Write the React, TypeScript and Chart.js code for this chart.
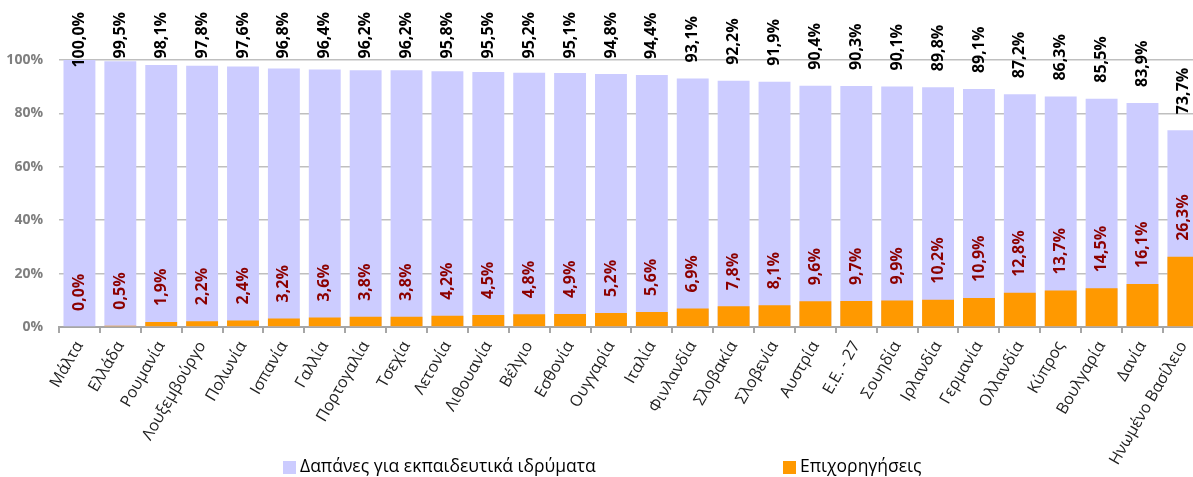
import React, { useEffect, useRef } from "react";
import { Chart, registerables } from "chart.js";

Chart.register(...registerables);

const categories = [
  "Μάλτα", "Ελλάδα", "Ρουμανία", "Λουξεμβούργο", "Πολωνία", "Ισπανία", "Γαλλία",
  "Πορτογαλία", "Τσεχία", "Λετονία", "Λιθουανία", "Βέλγιο", "Εσθονία", "Ουγγαρία",
  "Ιταλία", "Φινλανδία", "Σλοβακία", "Σλοβενία", "Αυστρία", "Ε.Ε. - 27", "Σουηδία",
  "Ιρλανδία", "Γερμανία", "Ολλανδία", "Κύπρος", "Βουλγαρία", "Δανία", "Ηνωμένο Βασίλειο",
];

const institutionSpending = [
  100.0, 99.5, 98.1, 97.8, 97.6, 96.8, 96.4, 96.2, 96.2, 95.8, 95.5, 95.2, 95.1, 94.8,
  94.4, 93.1, 92.2, 91.9, 90.4, 90.3, 90.1, 89.8, 89.1, 87.2, 86.3, 85.5, 83.9, 73.7,
];

const grants = [
  0.0, 0.5, 1.9, 2.2, 2.4, 3.2, 3.6, 3.8, 3.8, 4.2, 4.5, 4.8, 4.9, 5.2,
  5.6, 6.9, 7.8, 8.1, 9.6, 9.7, 9.9, 10.2, 10.9, 12.8, 13.7, 14.5, 16.1, 26.3,
];

const seriesNames = ["Δαπάνες για εκπαιδευτικά ιδρύματα", "Επιχορηγήσεις"];
const yTicks = [0, 20, 40, 60, 80, 100];

const LAVENDER = "#CCCCFF";
const ORANGE = "#FF9900";
const FONT = "'Open Sans', 'DejaVu Sans', sans-serif";

const fmt = (v: number) => v.toFixed(1).replace(".", ",") + "%";

const labelPlugin = {
  id: "valueLabels",
  afterDatasetsDraw(chart: any) {
    const ctx = chart.ctx;
    const grantMeta = chart.getDatasetMeta(0);
    const instMeta = chart.getDatasetMeta(1);
    ctx.save();
    ctx.textAlign = "left";
    ctx.textBaseline = "middle";
    ctx.font = `bold 16px ${FONT}`;
    ctx.fillStyle = "#000000";
    instMeta.data.forEach((bar: any, i: number) => {
      const txt = fmt(institutionSpending[i]);
      const w = ctx.measureText(txt).width;
      let yb = bar.y - 16;
      if (yb - w < 12) yb = 12 + w;
      ctx.save();
      ctx.translate(bar.x, yb);
      ctx.rotate(-Math.PI / 2);
      ctx.fillText(txt, 0, 0);
      ctx.restore();
    });
    ctx.fillStyle = "#8B0000";
    grantMeta.data.forEach((bar: any, i: number) => {
      const txt = fmt(grants[i]);
      const yb = bar.y - 16;
      ctx.save();
      ctx.translate(bar.x, yb);
      ctx.rotate(-Math.PI / 2);
      ctx.fillText(txt, 0, 0);
      ctx.restore();
    });
    ctx.restore();
  },
  afterDraw(chart: any) {
    const ctx = chart.ctx;
    ctx.save();
    ctx.font = `17.5px ${FONT}`;
    ctx.textBaseline = "middle";
    ctx.textAlign = "left";
    const y = 467;
    const items = [
      { x: 283, color: LAVENDER, text: seriesNames[0] },
      { x: 783, color: ORANGE, text: seriesNames[1] },
    ];
    items.forEach((it) => {
      ctx.fillStyle = it.color;
      ctx.fillRect(it.x, y - 6, 13, 13);
      ctx.fillStyle = "#000000";
      ctx.fillText(it.text, it.x + 17, y);
    });
    ctx.restore();
  },
};

export default function App() {
  const ref = useRef<HTMLCanvasElement | null>(null);
  useEffect(() => {
    document.body.style.margin = "0";
    document.body.style.overflow = "hidden";
    const chart = new Chart(ref.current as HTMLCanvasElement, {
      type: "bar",
      data: {
        labels: categories,
        datasets: [
          {
            label: seriesNames[1],
            data: grants,
            backgroundColor: ORANGE,
            barPercentage: 0.78,
            categoryPercentage: 1,
          },
          {
            label: seriesNames[0],
            data: institutionSpending,
            backgroundColor: LAVENDER,
            barPercentage: 0.78,
            categoryPercentage: 1,
          },
        ],
      },
      options: {
        animation: false,
        responsive: false,
        layout: { padding: { top: 60, bottom: 0, left: 0, right: 0 } },
        plugins: { legend: { display: false }, tooltip: { enabled: false } },
        scales: {
          x: {
            stacked: true,
            grid: {
              drawOnChartArea: false,
              drawTicks: true,
              tickLength: 6,
              offset: true,
              color: "#A6A6A6",
              lineWidth: 2,
            },
            border: { display: true, color: "#A6A6A6", width: 2 },
            ticks: {
              autoSkip: false,
              minRotation: 60,
              maxRotation: 60,
              color: "#222222",
              font: { family: FONT, size: 16 },
              padding: 5,
            },
            afterFit(scale: any) {
              scale.height = 477 - 327;
            },
          },
          y: {
            stacked: false,
            min: 0,
            max: 100,
            afterBuildTicks(scale: any) {
              scale.ticks = yTicks.map((v) => ({ value: v }));
            },
            grid: { color: "#BFBFBF", lineWidth: 1.5, drawTicks: false },
            border: { display: false },
            ticks: {
              color: "#7F7F7F",
              padding: 16,
              font: { family: FONT, size: 14, weight: "bold" },
              callback: (v: any) => v + "%",
            },
            afterFit(scale: any) {
              scale.width = 59;
            },
          },
        },
      },
      plugins: [labelPlugin],
    });
    return () => chart.destroy();
  }, []);
  return (
    <div style={{ width: 1193, height: 477, overflow: "hidden" }}>
      <canvas ref={ref} width={1205} height={477} style={{ display: "block" }} />
    </div>
  );
}
